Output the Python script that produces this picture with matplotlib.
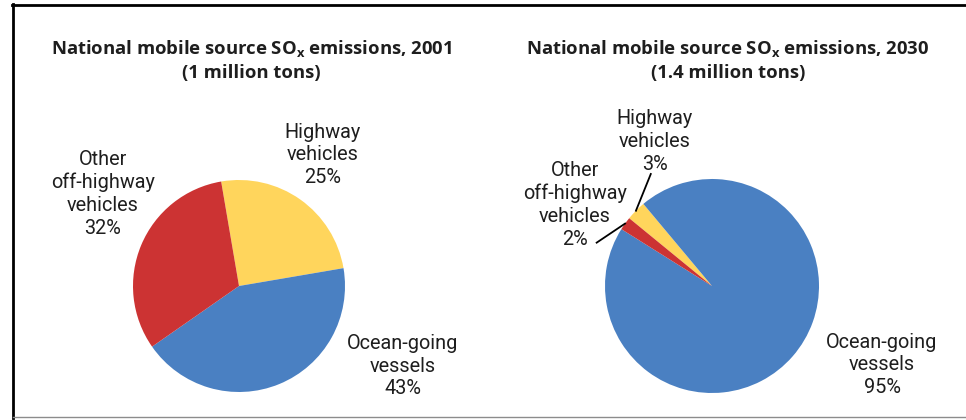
import numpy as np
import matplotlib
matplotlib.use("Agg")
import matplotlib.pyplot as plt
from matplotlib.lines import Line2D

plt.rcParams["font.family"] = ["Roboto", "DejaVu Sans"]

# emission shares by source, in the order the wedges are drawn (clockwise)
categories = ["Highway\nvehicles", "Ocean-going\nvessels", "Other\noff-highway\nvehicles"]
share_2001 = [25, 43, 32]
share_2030 = [3, 95, 2]
titles = [
    "National mobile source SO$_\\mathregular{x}$ emissions, 2001\n(1 million tons)",
    "National mobile source SO$_\\mathregular{x}$ emissions, 2030\n(1.4 million tons)",
]
colors = ["#FFD55C", "#4A80C2", "#CC3333"]

W, H = 966, 420
TEXT = "#1e1e1e"

fig = plt.figure(figsize=(W / 100, H / 100), dpi=100)


def pie_axes(cx, cy, r):
    # square axes (pixel layout, origin top-left) holding a unit-radius pie
    ax = fig.add_axes([(cx - r) / W, 1 - (cy + r) / H, 2 * r / W, 2 * r / H])
    ax.set_xlim(-1, 1)
    ax.set_ylim(-1, 1)
    ax.set_aspect("equal")
    ax.axis("off")
    return ax


def draw_pie(ax, values, start, label_pos, leaders=None):
    wedges, _ = ax.pie(values, colors=colors, startangle=start, counterclock=False,
                       radius=1, wedgeprops=dict(linewidth=0))
    ax.set_xlim(-1, 1)
    ax.set_ylim(-1, 1)
    for i, (w, cat, v) in enumerate(zip(wedges, categories, values)):
        lx, ly = label_pos[i]
        ax.text(lx, ly, f"{cat}\n{v}%", ha="center", va="center", fontsize=14.3,
                color=TEXT, linespacing=1.26, clip_on=False)
        if leaders and leaders[i] is not None:
            mid = np.deg2rad((w.theta1 + w.theta2) / 2)
            sx, sy = leaders[i]
            ax.add_line(Line2D([sx, np.cos(mid)], [sy, np.sin(mid)], color="black",
                               linewidth=1.3, clip_on=False))


ax1 = pie_axes(239, 286, 106)
draw_pie(ax1, share_2001, 99.7,
         [(0.79, 1.236), (1.547, -0.755), (-1.283, 0.868)])

ax2 = pie_axes(712, 286, 107)
draw_pie(ax2, share_2030, 140.7,
         [(-0.533, 1.35), (1.589, -0.738), (-1.28, 0.757)],
         leaders=[(-0.572, 1.047), None, (-1.078, 0.405)])

for x, t in zip([251, 728], titles):
    fig.text(x / W, 1 - 60 / H, t, ha="center", va="center", fontsize=13.3,
             fontweight="bold", family=["Open Sans", "DejaVu Sans"], color=TEXT,
             linespacing=1.36)

# panel frame: heavy black left/top rules, light grey bottom rule
fig.add_artist(Line2D([13 / W, 13 / W], [1 - 4 / H, 1 - 418 / H], color="black",
                      linewidth=2, transform=fig.transFigure))
fig.add_artist(Line2D([12 / W, 1], [1 - 5 / H, 1 - 5 / H], color="black",
                      linewidth=2, transform=fig.transFigure))
fig.add_artist(Line2D([13 / W, 1], [1 - 417 / H, 1 - 417 / H], color="#8c8c8c",
                      linewidth=1, transform=fig.transFigure))

fig.savefig("out.png", dpi=100)
